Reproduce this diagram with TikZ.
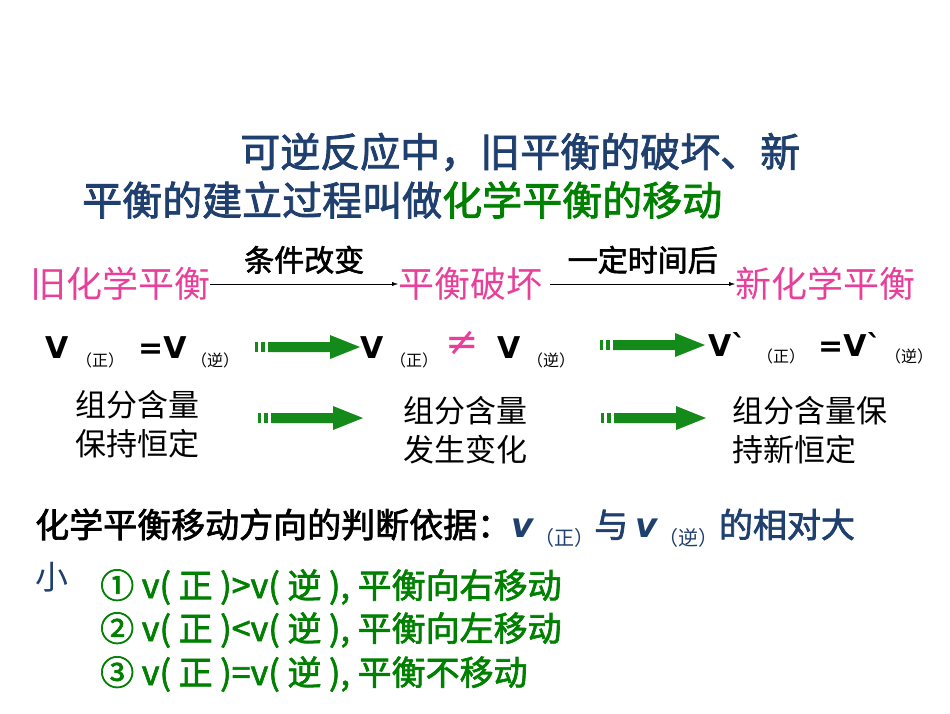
\documentclass[tikz,border=0pt]{standalone}
\usepackage{fontspec}
\usetikzlibrary{arrows.meta}
\newfontfamily\cjk{Noto Sans CJK SC}
\newfontfamily\cjkb[FakeBold=2]{Noto Sans CJK SC}
\newfontfamily\dvb{DejaVu Sans Bold}
\newfontfamily\dv{DejaVu Sans}
\definecolor{dblue}{HTML}{1F3F6E}
\definecolor{pinkc}{HTML}{E8409A}
\definecolor{gr}{HTML}{008000}
\definecolor{garrow}{HTML}{138A1A}
\tikzset{
  t/.style={inner sep=0pt,anchor=west},
  title/.style={t,font=\cjkb\fontsize{40}{44}\selectfont,text=dblue},
  stage/.style={t,font=\cjk\fontsize{36}{40}\selectfont,text=pinkc},
  lab/.style={inner sep=0pt,font=\cjkb\fontsize{30}{32}\selectfont},
  body/.style={t,font=\cjk\fontsize{31}{39}\selectfont,align=left},
  vv/.style={t,font=\dvb\fontsize{30}{32}\selectfont},
  sub/.style={t,font=\cjk\fontsize{16}{18}\selectfont},
  cond/.style={t,font=\cjkb\fontsize{34}{38}\selectfont,text=gr},
}
\newcommand{\garrowat}[2]{%
  \fill[garrow] (#1,#2-5) rectangle (#1+3,#2+5);
  \fill[garrow] (#1+6,#2-5) rectangle (#1+10,#2+5);
  \fill[garrow] (#1+13,#2-5) -- (#1+75,#2-5) -- (#1+75,#2-12) -- (#1+105,#2) -- (#1+75,#2+12) -- (#1+75,#2+5) -- (#1+13,#2+5) -- cycle;}
\begin{document}
\begin{tikzpicture}[x=1pt,y=-1pt]
\useasboundingbox[fill=white] (0,0) rectangle (950,713);
\node[title] (t1) at (240,152) {可逆反应中，旧平衡的破坏、新};
\node[title] (t2) at (82,200) {平衡的建立过程叫做\textcolor{gr}{化学平衡的移动}};
\node[stage] (s1) at (30,284) {旧化学平衡};
\node[stage] (s2) at (398,284) {平衡破坏};
\node[stage] (s3) at (735,284) {新化学平衡};
\draw[-{Latex[length=6pt,width=4pt]},thin] (s1.east) -- node[lab,above=10pt] {条件改变} (s2.west);
\draw[-{Latex[length=6pt,width=4pt]},thin] (s2.east) ++(8,0) coordinate (c2) (c2) -- node[lab,above=10pt] {一定时间后} (s3.west);
% V row
\node[vv] (v1) at (45,348) {V};
\node[sub] (v1s) at (76,360) {（正）};
\node[vv] (v1e) at (138,348) {=V};
\node[sub] (v1t) at (191,360) {（逆）};
\node[vv] (v2) at (360,348) {V};
\node[sub] (v2s) at (390,360) {（正）};
\node[t,font=\dv\fontsize{40}{40}\selectfont,text=pinkc] (ne) at (445,343) {≠};
\node[vv] (v2e) at (497,348) {V};
\node[sub] (v2t) at (527,360) {（逆）};
\node[vv] (v3) at (708,344) {V`};
\node[sub] (v3s) at (757,356) {（正）};
\node[vv] (v3e) at (818,344) {=V`};
\node[sub] (v3t) at (885,356) {（逆）};
\garrowat{255}{347}
\garrowat{600}{345}
\garrowat{258}{418}
\garrowat{601}{418}
\node[body,anchor=north west] (b1) at (75,390) {组分含量\\保持恒定};
\node[body,anchor=north west] (b2) at (403,396) {组分含量\\发生变化};
\node[body,anchor=north west] (b3) at (732,396) {组分含量保\\持新恒定};
% bottom
\node[t,font=\cjkb\fontsize{34}{38}\selectfont] (q) at (35,528) {化学平衡移动方向的判断依据：\textcolor{dblue}{\textit{\dvb v}\raisebox{-8pt}{\cjk\fontsize{20}{22}\selectfont（正）}与 \textit{\dvb v}\raisebox{-8pt}{\cjk\fontsize{20}{22}\selectfont（逆）}的相对大}};
\node[t,font=\cjk\fontsize{33}{36}\selectfont,text=dblue] (xiao) at (35,577) {小};
\node[cond] (c1) at (100,587) {① \textit{v}( 正 )>\textit{v}( 逆 ), 平衡向右移动};
\node[cond] (c2b) at (100,630) {② \textit{v}( 正 )<\textit{v}( 逆 ), 平衡向左移动};
\node[cond] (c3) at (100,674) {③ \textit{v}( 正 )=\textit{v}( 逆 ), 平衡不移动};
\end{tikzpicture}
\end{document}
